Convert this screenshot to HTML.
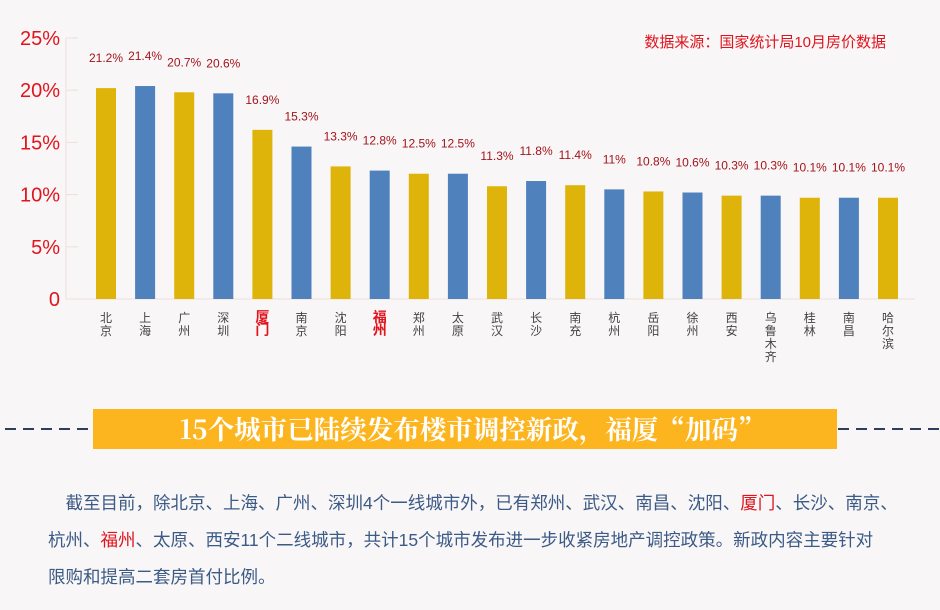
<!DOCTYPE html>
<html><head><meta charset="utf-8"><style>
body{margin:0;background:#f8f6f6;width:940px;height:610px;overflow:hidden;font-family:"Liberation Sans","Noto Sans CJK SC",sans-serif;}
#wrap{position:relative;width:940px;height:610px}
.para{position:absolute;left:48px;top:485px;width:890px;font-size:17.5px;line-height:37px;color:#3b5a86;white-space:nowrap;}
.r{color:#e0141e}
</style></head><body><div id="wrap">
<svg id="chart" width="940" height="400" style="position:absolute;left:0;top:0"></svg>
<svg width="940" height="60" style="position:absolute;left:0;top:400px">
<line x1="5" y1="29" x2="93" y2="29" stroke="#2e3f5c" stroke-width="2" stroke-dasharray="11,7"/>
<line x1="838" y1="29" x2="940" y2="29" stroke="#2e3f5c" stroke-width="2" stroke-dasharray="11,7"/>
<rect x="93" y="9" width="744" height="40" fill="#fdb51f"/>
<text x="472" y="39" text-anchor="middle" fill="#fff" font-size="26" font-weight="bold" textLength="585" lengthAdjust="spacingAndGlyphs" font-family="'Noto Serif CJK SC','Liberation Serif',serif">15个城市已陆续发布楼市调控新政，福厦“加码”</text>
</svg>
<div class="para">&#12288;截至目前，除北京、上海、广州、深圳4个一线城市外，已有郑州、武汉、南昌、沈阳、<span class="r">厦门</span>、长沙、南京、<br>杭州、<span class="r">福州</span>、太原、西安11个二线城市，共计15个城市发布进一步收紧房地产调控政策。新政内容主要针对<br>限购和提高二套房首付比例。</div>
</div>
<script>
const cities=["北京","上海","广州","深圳","厦门","南京","沈阳","福州","郑州","太原","武汉","长沙","南充","杭州","岳阳","徐州","西安","乌鲁木齐","桂林","南昌","哈尔滨"];
const barValues=[20.2,20.4,19.8,19.7,16.2,14.6,12.7,12.3,12.0,12.0,10.8,11.3,10.9,10.5,10.3,10.2,9.9,9.9,9.7,9.7,9.7];
const printedLabels=["21.2%","21.4%","20.7%","20.6%","16.9%","15.3%","13.3%","12.8%","12.5%","12.5%","11.3%","11.8%","11.4%","11%","10.8%","10.6%","10.3%","10.3%","10.1%","10.1%","10.1%"];
const yTicks=[0,5,10,15,20,25];
const yTickLabels=["0","5%","10%","15%","20%","25%"];
const barColors=["g","b","g","b","g","b","g","b","g","b","g","b","g","b","g","b","g","b","g","b","g"];
const redCities=["厦门","福州"];
const NS="http://www.w3.org/2000/svg",svg=document.getElementById("chart");
const y=v=>299-v*10.44, x=i=>106+i*39.1;
function mk(t,a){const e=document.createElementNS(NS,t);for(const k in a)e.setAttribute(k,a[k]);svg.appendChild(e);return e;}
const ax=mk("line",{x1:66,y1:38,x2:66,y2:299,stroke:"#f0dede"});


const bx=mk("line",{x1:66,y1:299,x2:915,y2:299,stroke:"#f0dede"});


yTicks.forEach((v,i)=>{
 const tk=mk("line",{x1:66,x2:78,y1:y(v),y2:y(v),stroke:"#f0dede"});
 
 
 const t=mk("text",{x:60,y:y(v)+7,"text-anchor":"end",fill:"#e0141e","font-size":"20"});
 t.textContent=yTickLabels[i];
 
 
});
cities.forEach((c,i)=>{
 const r=mk("rect",{x:x(i)-10,y:y(barValues[i]),width:20,height:y(0)-y(barValues[i]),fill:barColors[i]=="g"?"#dfb40a":"#4f81bd"});
 
 
 const l=mk("text",{x:x(i),y:y(barValues[i])-26,"text-anchor":"middle",fill:"#a3141c","font-size":"12"});
 l.textContent=printedLabels[i];
 
 
 const red=redCities.includes(c);
 const g=mk("text",{x:x(i),"text-anchor":"middle",fill:red?"#e0141e":"#444","font-size":red?"14":"12","font-weight":red?"bold":"normal"});
 
 
 [...c].forEach((ch,k)=>{const s=document.createElementNS(NS,"tspan");s.setAttribute("x",x(i));s.setAttribute("y",322+k*13);s.textContent=ch;g.appendChild(s);});
});
const src=mk("text",{x:886,y:47,"text-anchor":"end",fill:"#e0141e","font-size":"15"});
src.textContent="数据来源：国家统计局10月房价数据";


</script></body></html>
